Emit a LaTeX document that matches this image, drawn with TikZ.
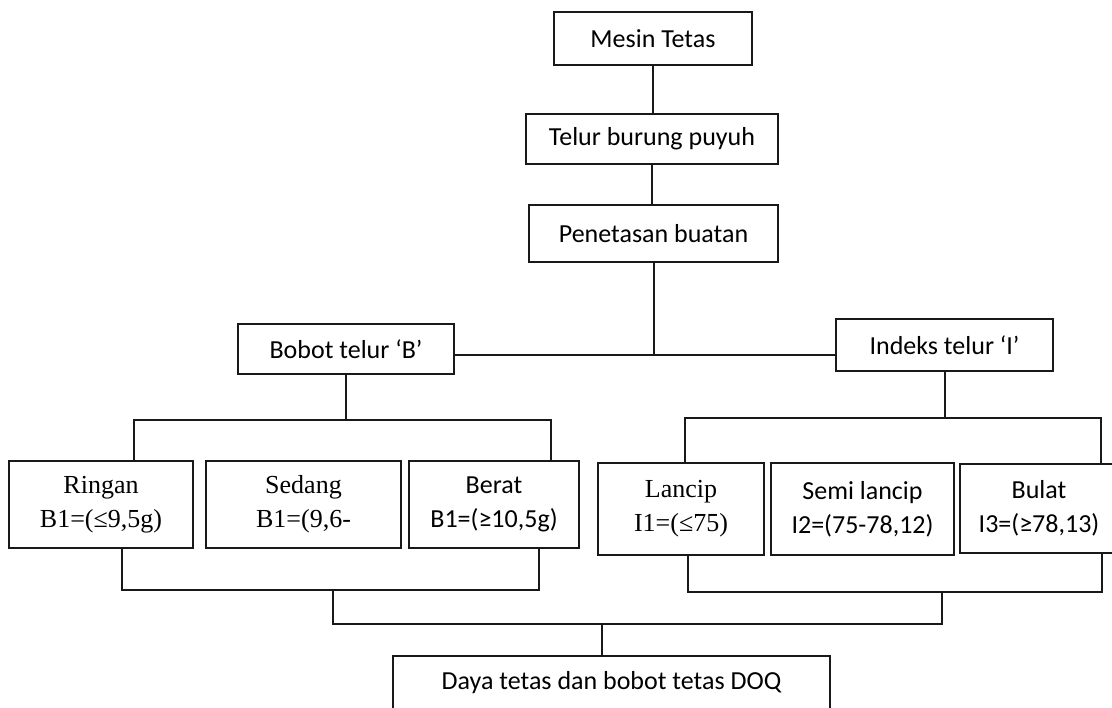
\documentclass[tikz,border=0pt]{standalone}
\usepackage{fontspec}
\setmainfont{Carlito}
\newfontfamily\timesfont{Liberation Serif}
\colorlet{box edge}{black!90}
\tikzset{box/.style={draw=box edge, line width=2.2pt, inner sep=0pt, align=center,
        font=\fontsize{26}{34}\selectfont},
    serif/.style={font=\timesfont\fontsize{26}{34}\selectfont},
    leaf/.style={box, minimum height=87},
    wire/.style={draw=box edge, line width=2pt}}

\begin{document}
\begin{tikzpicture}[x=1pt, y=-1pt]
     \useasboundingbox (0,0) rectangle (1112,708);
     \node[box, minimum width=198, minimum height=53] (mesin) at (653,38.5) {Mesin Tetas};
     \node[box, minimum width=252, minimum height=50] (telur) at (652,139) {Telur burung puyuh};
     \node[box, minimum width=249, minimum height=57] (tetas) at (653.5,233.5) {Penetasan buatan};
     \node[box, minimum width=216, minimum height=50] (bobot) at (346,349) {Bobot telur ‘B’};
     \node[box, minimum width=217, minimum height=52] (indeks) at (944.5,345) {Indeks telur ‘I’};

     \node[leaf, serif, minimum width=184] (ringan) at (101,504.5) {Ringan\\B1=(≤9,5g)};
     \node[leaf, serif, minimum width=195] (sedang) at (303.5,504.5) {Sedang\\B1=(9,6-};
     \node[leaf, minimum width=170] (berat) at (494,504.5) {Berat\\B1=(≥10,5g)};
     \node[leaf, serif, minimum width=166, minimum height=92] (lancip) at (681,509) {Lancip\\I1=(≤75)};
     \node[leaf, minimum width=183, minimum height=92] (semi) at (862.5,509) {Semi lancip\\I2=(75-78,12)};
     \node[leaf, minimum width=158, minimum height=89] (bulat) at (1039,508.5) {Bulat\\I3=(≥78,13)};

     \node[box, minimum width=437, minimum height=54] (daya) at (611.5,683) {Daya tetas dan bobot tetas DOQ};

     \coordinate (junction) at (653,355);
     \coordinate (b1) at (134,420);  \coordinate (b2) at (551,420);
     \coordinate (i1) at (685,418);  \coordinate (i2) at (1101,418);
     \coordinate (c1) at (122,590);  \coordinate (c2) at (539,590);
     \coordinate (c3) at (688,592);  \coordinate (c4) at (1102,592);
     \coordinate (d1) at (333,624);  \coordinate (d2) at (942,624);
     \coordinate (d) at (601.5,624);

     \draw[wire] (mesin.south) -- (mesin.south |- telur.north);
     \draw[wire] (telur.south) -- (telur.south |- tetas.north);
     \draw[wire] (tetas.south) -- (tetas.south |- junction);
     \draw[wire] (bobot.east |- junction) -- (indeks.west |- junction);

     \draw[wire] (bobot.south) -- (bobot.south |- b1);
     \draw[wire] (b1 |- ringan.north) -- (b1) -- (b2) -- (b2 |- berat.north);
     \draw[wire] (indeks.south) -- (indeks.south |- i1);
     \draw[wire] (i1 |- lancip.north) -- (i1) -- (i2) -- (i2 |- bulat.north);

     \draw[wire] (c1 |- ringan.south) -- (c1) -- (c2) -- (c2 |- berat.south);
     \draw[wire] (c3 |- lancip.south) -- (c3) -- (c4) -- (c4 |- bulat.south);
     \draw[wire] (d1 |- c1) -- (d1) -- (d2) -- (d2 |- c4);
     \draw[wire] (d) -- (d |- daya.north);
 \end{tikzpicture}
\end{document}
